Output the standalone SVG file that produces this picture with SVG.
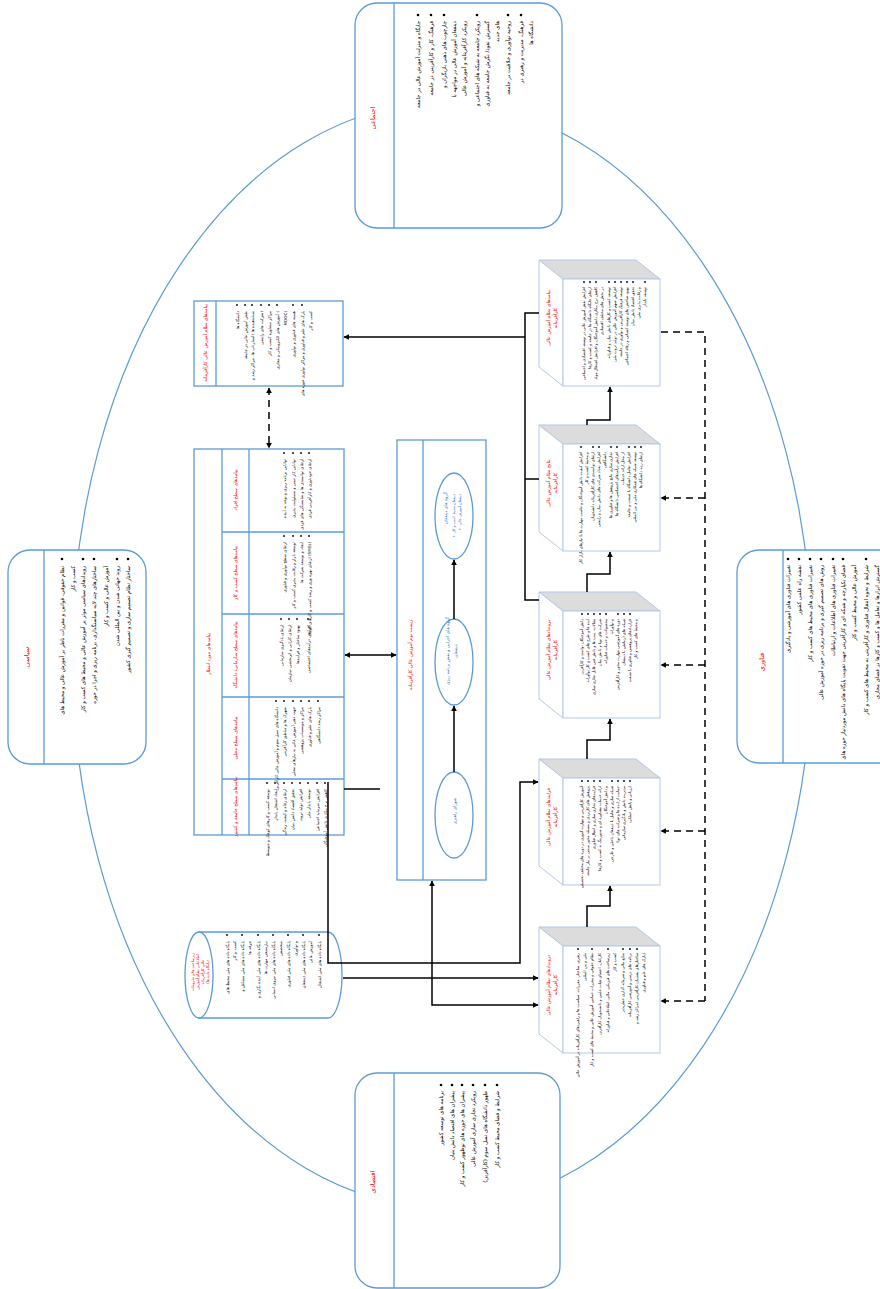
<svg xmlns="http://www.w3.org/2000/svg" width="880" height="1289" viewBox="0 0 880 1289">
<defs>
<marker id="ah" viewBox="0 0 10 10" refX="9" refY="5" markerWidth="6" markerHeight="6" orient="auto-start-reverse" markerUnits="userSpaceOnUse">
<path d="M0,0 L10,5 L0,10 z" fill="#000"/>
</marker>
</defs>
<style>
.bx{fill:#fff;stroke:#5b9bd5;stroke-width:1.3}
.ln{stroke:#5b9bd5;stroke-width:1.3;fill:none}
.cf{fill:#fff;stroke:#b4c7e7;stroke-width:1}
.ct{fill:#dcdcdc;stroke:#b4c7e7;stroke-width:1}
.c{stroke:#000;stroke-width:1.5;fill:none}
.d{stroke:#000;stroke-width:1.5;fill:none;stroke-dasharray:7 5}
text{font-family:"DejaVu Sans","Noto Sans",sans-serif}
.t{font-size:5.4px;fill:#000;text-anchor:end}
.s{font-size:4.1px;fill:#000;text-anchor:end}
.q{font-size:3.9px;fill:#000;text-anchor:end}
.h{font-size:6.5px;fill:#ff0000;text-anchor:middle}
.hs{font-size:4.8px;fill:#ff0000;text-anchor:middle}
.e{font-size:4.4px;fill:#2e75b6;text-anchor:end}
.em{font-size:4.4px;fill:#2e75b6;text-anchor:middle}
.es{font-size:3.6px;fill:#2e75b6;text-anchor:end}
.bl{fill:#000}
</style>

<ellipse cx="442" cy="655" rx="370" ry="552" fill="none" stroke="#5b9bd5" stroke-width="1.2"/>

<g id="political">
<rect class="bx" x="8" y="550" width="138" height="214" rx="22"/>
<line class="ln" x1="44" y1="550" x2="44" y2="764"/>
<g class="bl"><circle cx="62" cy="559" r="1.3"/><circle cx="83" cy="559" r="1.3"/><circle cx="94" cy="559" r="1.3"/><circle cx="117" cy="559" r="1.3"/><circle cx="128" cy="559" r="1.3"/></g>
<g transform="rotate(-90)">
<text class="h" x="-657" y="29">سیاسی</text>
<text class="t" x="-566" y="64">نظام حقوقی، قوانین و مقررات ناظر بر آموزش عالی و محیط های</text>
<text class="t" x="-566" y="75">کسب و کار</text>
<text class="t" x="-566" y="85">رویدادهای سیاسی موثر بر آموزش عالی و محیط های کسب و کار</text>
<text class="t" x="-566" y="96">ساختارهای چند لایه سیاستگذاری، برنامه ریزی و اجرا در حوزه</text>
<text class="t" x="-566" y="108">آموزش عالی و کسب و کار</text>
<text class="t" x="-566" y="119">روند جهانی شدن و بین المللی شدن</text>
<text class="t" x="-566" y="130">ساختار نظام تصمیم سازی و تصمیم گیری کشور</text>
</g>
</g>

<g id="social">
<rect class="bx" x="355" y="3" width="207" height="225" rx="22"/>
<line class="ln" x1="394" y1="3" x2="394" y2="228"/>
<g class="bl"><circle cx="418" cy="15" r="1.3"/><circle cx="431" cy="15" r="1.3"/><circle cx="444" cy="15" r="1.3"/><circle cx="477" cy="15" r="1.3"/><circle cx="508" cy="15" r="1.3"/><circle cx="521" cy="15" r="1.3"/></g>
<g transform="rotate(-90)">
<text class="h" x="-118" y="375">اجتماعی</text>
<text class="t" x="-21" y="420">جایگاه و منزلت آموزش عالی در جامعه</text>
<text class="t" x="-21" y="433">فرهنگ، کار و کارآفرینی در جامعه</text>
<text class="t" x="-21" y="446">چارچوب های ذهنی بازیگران و</text>
<text class="t" x="-21" y="456">ذینفعان آموزش عالی در مواجهه با</text>
<text class="t" x="-21" y="466">رویکرد کارآفرینانه و آموزش عالی</text>
<text class="t" x="-21" y="479">رویکرد جامعه به شبکه های اجتماعی و</text>
<text class="t" x="-21" y="489">گسترش نفوذ/ نگرش جامعه به فناوری</text>
<text class="t" x="-21" y="499">های جدید</text>
<text class="t" x="-21" y="510">روحیه نوآوری و خلاقیت در جامعه</text>
<text class="t" x="-21" y="523">فرهنگ، مدیریت و رهبری در</text>
<text class="t" x="-21" y="533">دانشگاه ها</text>
</g>
</g>

<g id="economic">
<rect class="bx" x="355" y="1073" width="205" height="215" rx="22"/>
<line class="ln" x1="394" y1="1073" x2="394" y2="1288"/>
<g class="bl"><circle cx="441" cy="1085" r="1.3"/><circle cx="452" cy="1085" r="1.3"/><circle cx="462" cy="1085" r="1.3"/><circle cx="473" cy="1085" r="1.3"/><circle cx="485" cy="1085" r="1.3"/><circle cx="497" cy="1085" r="1.3"/></g>
<g transform="rotate(-90)">
<text class="h" x="-1182" y="375">اقتصادی</text>
<text class="t" x="-1091" y="443">برنامه های توسعه کشور</text>
<text class="t" x="-1091" y="454">پیشران های اقتصاد دانش بنیان</text>
<text class="t" x="-1091" y="464">پیشران های حوزه های نوظهور کسب و کار</text>
<text class="t" x="-1091" y="475">رویکرد تجاری سازی آموزش عالی</text>
<text class="t" x="-1091" y="487">ظهور دانشگاه های نسل سوم (کارآفرین)</text>
<text class="t" x="-1091" y="499">شرایط و فضای محیط کسب و کار</text>
</g>
</g>

<g id="technology">
<rect class="bx" x="737" y="550" width="170" height="213" rx="22"/>
<line class="ln" x1="783" y1="550" x2="783" y2="763"/>
<g class="bl"><circle cx="788" cy="559" r="1.3"/><circle cx="799" cy="559" r="1.3"/><circle cx="810" cy="559" r="1.3"/><circle cx="821" cy="559" r="1.3"/><circle cx="833" cy="559" r="1.3"/><circle cx="843" cy="559" r="1.3"/><circle cx="866" cy="559" r="1.3"/></g>
<g transform="rotate(-90)">
<text class="h" x="-662" y="764">فناوری</text>
<text class="t" x="-565" y="790">تغییرات فناوری های آموزشی و یادگیری</text>
<text class="t" x="-565" y="801">نقشه راه علمی کشور</text>
<text class="t" x="-565" y="812">تغییرات فناوری های محیط های کسب و کار</text>
<text class="t" x="-565" y="823">روش های تصمیم گیری و برنامه ریزی در حوزه آموزش عالی</text>
<text class="t" x="-565" y="835">تغییرات فناوری های اطلاعات و ارتباطات</text>
<text class="t" x="-565" y="845">فضای یکپارچه و شبکه ای و کارآفرینی جهت تقویت پایگاه های دانش موردنیاز حوزه های</text>
<text class="t" x="-565" y="856">آموزش عالی و محیط کسب و کار</text>
<text class="t" x="-565" y="868">شرایط و نحوه انتقال فناوری و کارآفرینی به محیط های کسب و کار</text>
<text class="t" x="-565" y="879">گسترش ابزارها و تعامل ها و کسب و کارها در فضای مجازی</text>
</g>
</g>

<g id="impacts-box">
<rect class="bx" x="194" y="301" width="149" height="85"/>
<line class="ln" x1="216" y1="301" x2="216" y2="386"/>
<g class="bl"><circle cx="237" cy="305" r="0.9"/><circle cx="245" cy="305" r="0.9"/><circle cx="252" cy="305" r="0.9"/><circle cx="261" cy="305" r="0.9"/><circle cx="269" cy="305" r="0.9"/><circle cx="277" cy="305" r="0.9"/><circle cx="293" cy="305" r="0.9"/><circle cx="302" cy="305" r="0.9"/></g>
<g transform="rotate(-90)">
<text class="hs" x="-343" y="207">پیامدهای نظام آموزش عالی کارآفرینانه</text>
<text class="s" x="-311" y="238.5">دانشگاه ها</text>
<text class="s" x="-311" y="246.5">نقش آموزش عالی در جامعه</text>
<text class="s" x="-311" y="253.5">شتابدهنده ها (استارتاپ ها، مراکز رشد و</text>
<text class="s" x="-311" y="262.5">شرکت های زایشی)</text>
<text class="s" x="-311" y="270.5">مراکز مشاوره کسب و کار</text>
<text class="s" x="-311" y="278.5">آموزش های الکترونیکی و مجازی (</text>
<text class="s" x="-311" y="286.5">MOOC)</text>
<text class="s" x="-311" y="294.5">هسته های فناوری و نوآوری</text>
<text class="s" x="-311" y="303.5">پارک های علم و فناوری و مراکز نوآوری حوزه های</text>
<text class="s" x="-311" y="311.5">کسب و کار</text>
</g>
</g>

<g id="outcomes-table">
<rect class="bx" x="194" y="449" width="150" height="386"/>
<line class="ln" x1="222" y1="449" x2="222" y2="835"/>
<line class="ln" x1="249" y1="449" x2="249" y2="835"/>
<line class="ln" x1="222" y1="532" x2="344" y2="532"/>
<line class="ln" x1="222" y1="614" x2="344" y2="614"/>
<line class="ln" x1="222" y1="697" x2="344" y2="697"/>
<line class="ln" x1="222" y1="779" x2="344" y2="779"/>
<g class="bl">
<circle cx="284" cy="453" r="0.9"/><circle cx="293" cy="453" r="0.9"/><circle cx="301" cy="453" r="0.9"/><circle cx="309" cy="453" r="0.9"/>
<circle cx="284" cy="536" r="0.9"/><circle cx="293" cy="536" r="0.9"/><circle cx="301" cy="536" r="0.9"/><circle cx="309" cy="536" r="0.9"/>
<circle cx="281" cy="619" r="0.9"/><circle cx="289" cy="619" r="0.9"/><circle cx="297" cy="619" r="0.9"/><circle cx="308" cy="619" r="0.9"/>
<circle cx="276" cy="701" r="0.9"/><circle cx="284" cy="701" r="0.9"/><circle cx="293" cy="701" r="0.9"/><circle cx="301" cy="701" r="0.9"/><circle cx="309" cy="701" r="0.9"/><circle cx="318" cy="701" r="0.9"/>
<circle cx="267" cy="783" r="0.9"/><circle cx="275" cy="783" r="0.9"/><circle cx="284" cy="783" r="0.9"/><circle cx="292" cy="783" r="0.9"/><circle cx="300" cy="783" r="0.9"/><circle cx="308" cy="783" r="0.9"/><circle cx="317" cy="783" r="0.9"/><circle cx="325" cy="783" r="0.9"/>
</g>
<g transform="rotate(-90)">
<text class="hs" x="-654" y="210">پیامدهای مورد انتظار</text>
<text class="hs" x="-490" y="237">پیامدهای سطح افراد</text>
<text class="hs" x="-573" y="237">پیامدهای سطح کسب و کار</text>
<text class="hs" x="-655" y="237">پیامدهای سطح سازمانی/ دانشگاه</text>
<text class="hs" x="-738" y="237">پیامدهای سطح محلی</text>
<text class="hs" x="-807" y="237">پیامدهای سطح جامعه و کشور</text>
<text class="s" x="-459" y="285.5">توانایی برنامه ریزی و توجه به آینده</text>
<text class="s" x="-459" y="294.5">توانایی کار تیمی و مسئولیت پذیری</text>
<text class="s" x="-459" y="302.5">ارتقای توانمندی ها و شایستگی های فردی</text>
<text class="s" x="-459" y="310.5">ارتقای خودباوری و کارآفرینی فردی</text>
<text class="s" x="-542" y="285.5">ارتقای سطح نوآوری و فناوری</text>
<text class="s" x="-542" y="294.5">توسعه بازار و رقابت پذیری کسب و کار</text>
<text class="s" x="-542" y="302.5">ایجاد و توسعه شرکت ها</text>
<text class="s" x="-542" y="310.5">ارتقای بهره وری و رشد کسب و کارهای کوچک (SMEs)</text>
<text class="s" x="-625" y="282.5">ارتقای یادگیری سازمانی</text>
<text class="s" x="-625" y="290.5">ارتقای کارایی و اثربخشی سازمان</text>
<text class="s" x="-625" y="298.5">بهبود ساختار و فرایندها</text>
<text class="s" x="-625" y="309.5">افزایش درآمدهای اختصاصی</text>
<text class="s" x="-707" y="277.5">دانشگاه های نسل سوم و آموزش عالی کارآفرین</text>
<text class="s" x="-707" y="285.5">شهرک ها و مناطق کارآفرینی</text>
<text class="s" x="-707" y="294.5">جهت دهی آموزش عالی به نیازهای محلی</text>
<text class="s" x="-707" y="302.5">مراکز و موسسات پژوهشی</text>
<text class="s" x="-707" y="310.5">پارک های علم و فناوری</text>
<text class="s" x="-707" y="319.5">مراکز رشد دانشگاهی</text>
<text class="s" x="-789" y="268.5">توسعه کسب و کارهای کوچک و متوسط</text>
<text class="s" x="-789" y="276.5">ایجاد اشتغال پایدار</text>
<text class="s" x="-789" y="285.5">ارتقای رفاه و کیفیت زندگی</text>
<text class="s" x="-789" y="293.5">تحقق اقتصاد دانش بنیان</text>
<text class="s" x="-789" y="301.5">افزایش تولید ثروت</text>
<text class="s" x="-789" y="309.5">توسعه پایدار ملی</text>
<text class="s" x="-789" y="318.5">افزایش سرمایه اجتماعی</text>
<text class="s" x="-789" y="326.5">کاهش نرخ بیکاری دانش آموختگان</text>
</g>
</g>

<g id="ecosystem">
<rect class="bx" x="397" y="440" width="89" height="440"/>
<line class="ln" x1="423" y1="440" x2="423" y2="880"/>
<ellipse class="bx" cx="454" cy="516" rx="19" ry="43"/>
<ellipse class="bx" cx="454" cy="662" rx="19" ry="43"/>
<ellipse class="bx" cx="454" cy="815" rx="19" ry="43"/>
<g transform="rotate(-90)">
<text class="hs" x="-655" y="412">زیست بوم آموزش عالی کارآفرینانه</text>
<text class="e" x="-492" y="447">گروه های ذینفعان</text>
<text class="es" x="-494" y="455">۱- ذینفعان محیط کسب و کار</text>
<text class="es" x="-494" y="461">۲- ذینفعان آموزش عالی</text>
<text class="em" x="-651" y="449">گروه های اجرایی و نقش برنامه ریزی</text>
<text class="em" x="-651" y="457">ذینفعان</text>
<text class="em" x="-811" y="456">شورای راهبری</text>
</g>
</g>

<g id="infrastructure">
<path class="bx" d="M199,932 H328 A14,43 0 0 1 328,1018 H199 Z"/>
<ellipse class="bx" cx="199" cy="975" rx="14" ry="43"/>
<g class="bl"><circle cx="227" cy="935" r="0.9"/><circle cx="242" cy="935" r="0.9"/><circle cx="258" cy="935" r="0.9"/><circle cx="273" cy="935" r="0.9"/><circle cx="288" cy="935" r="0.9"/><circle cx="303" cy="935" r="0.9"/><circle cx="319" cy="935" r="0.9"/></g>
<g transform="rotate(-90)">
<text class="hs" style="font-size:3.8px" x="-972" y="194">زیرساخت ها و ملزومات</text>
<text class="hs" style="font-size:3.8px" x="-972" y="199">اطلاعاتی نظام آموزش</text>
<text class="hs" style="font-size:3.8px" x="-972" y="204">عالی کارآفرینانه</text>
<text class="hs" style="font-size:3.8px" x="-972" y="209">(پایگاه داده ها)</text>
<text class="s" x="-941" y="228.5">پایگاه داده های ملی محیط های</text>
<text class="s" x="-941" y="235.5">کسب و کار</text>
<text class="s" x="-941" y="243.5">پایگاه داده های ملی مشاغل و</text>
<text class="s" x="-941" y="250.5">حرفه ها</text>
<text class="s" x="-941" y="259.5">پایگاه داده های ملی آینده نگاری و</text>
<text class="s" x="-941" y="266.5">نیازسنجی مهارت ها</text>
<text class="s" x="-941" y="274.5">پایگاه داده های ملی نیروی انسانی</text>
<text class="s" x="-941" y="281.5">متخصص</text>
<text class="s" x="-941" y="289.5">پایگاه داده های ملی فناوری</text>
<text class="s" x="-941" y="296.5">و نوآوری</text>
<text class="s" x="-941" y="304.5">پایگاه داده های ملی ذینفعان</text>
<text class="s" x="-941" y="311.5">آموزش عالی</text>
<text class="s" x="-941" y="320.5">پایگاه داده های ملی اشتغال</text>
</g>
</g>

<g id="cube-impacts">
<polygon class="ct" points="539,260 636,260 660,279 563,279"/>
<polygon class="cf" points="539,260 563,279 563,386 539,367"/>
<rect class="cf" x="563" y="279" width="97" height="107"/>
<g class="bl"><circle cx="584" cy="282" r="0.9"/><circle cx="590" cy="282" r="0.9"/><circle cx="596" cy="282" r="0.9"/><circle cx="609" cy="282" r="0.9"/><circle cx="615" cy="282" r="0.9"/><circle cx="621" cy="282" r="0.9"/><circle cx="627" cy="282" r="0.9"/><circle cx="633" cy="282" r="0.9"/><circle cx="645" cy="282" r="0.9"/></g>
<g transform="rotate(-90)">
<text class="hs" x="-318" y="550">پیامدهای نظام آموزش عالی</text>
<text class="hs" x="-318" y="557">کارآفرینانه</text>
<text class="q" x="-287" y="585">افزایش نقش آموزش عالی در توسعه اقتصادی و اجتماعی</text>
<text class="q" x="-287" y="591">ارتقای جایگاه دانشگاه ها در جامعه و کسب و کارها</text>
<text class="q" x="-287" y="597">کاهش نرخ بیکاری دانش آموختگان و افزایش اشتغال مولد</text>
<text class="q" x="-287" y="603">در بخش های مختلف اقتصادی</text>
<text class="q" x="-287" y="610">توسعه کسب و کارهای دانش بنیان و فناورانه</text>
<text class="q" x="-287" y="616">افزایش سهم آموزش عالی در تولید ثروت ملی</text>
<text class="q" x="-287" y="622">توسعه فرهنگ کارآفرینی و نوآوری در جامعه</text>
<text class="q" x="-287" y="628">بهبود شاخص های توسعه انسانی و رفاه اجتماعی</text>
<text class="q" x="-287" y="634">تحقق اقتصاد دانش بنیان</text>
<text class="q" x="-287" y="640">و رقابت پذیری ملی</text>
<text class="q" x="-287" y="646">توسعه پایدار</text>
</g>
</g>

<g id="cube-outcomes">
<polygon class="ct" points="539,425 636,425 660,444 563,444"/>
<polygon class="cf" points="539,425 563,444 563,551 539,532"/>
<rect class="cf" x="563" y="444" width="97" height="107"/>
<g class="bl"><circle cx="581" cy="447" r="0.9"/><circle cx="593" cy="447" r="0.9"/><circle cx="599" cy="447" r="0.9"/><circle cx="611" cy="447" r="0.9"/><circle cx="617" cy="447" r="0.9"/><circle cx="629" cy="447" r="0.9"/><circle cx="635" cy="447" r="0.9"/><circle cx="641" cy="447" r="0.9"/></g>
<g transform="rotate(-90)">
<text class="hs" x="-483" y="550">نتایج نظام آموزش عالی</text>
<text class="hs" x="-483" y="557">کارآفرینانه</text>
<text class="q" x="-452" y="582">افزایش کیفیت دانش آموختگان و تناسب مهارت ها با نیازهای بازار کار</text>
<text class="q" x="-452" y="588">و محیط کسب و کار</text>
<text class="q" x="-452" y="594">ارتقای توانمندی های کارآفرینانه دانشجویان</text>
<text class="q" x="-452" y="600">افزایش تعداد شرکت های دانش بنیان و زایشی</text>
<text class="q" x="-452" y="606">دانشگاهی</text>
<text class="q" x="-452" y="612">تجاری سازی نتایج پژوهش ها و فناوری ها</text>
<text class="q" x="-452" y="618">افزایش درآمدهای اختصاصی دانشگاه ها</text>
<text class="q" x="-452" y="624">از محل ارائه خدمات</text>
<text class="q" x="-452" y="630">افزایش تعامل دانشگاه با صنعت و جامعه</text>
<text class="q" x="-452" y="636">توسعه شبکه های همکاری ملی و بین المللی</text>
<text class="q" x="-452" y="642">ارتقای رتبه دانشگاه ها</text>
</g>
</g>

<g id="cube-outputs">
<polygon class="ct" points="539,592 636,592 660,611 563,611"/>
<polygon class="cf" points="539,592 563,611 563,718 539,699"/>
<rect class="cf" x="563" y="611" width="97" height="107"/>
<g class="bl"><circle cx="582" cy="614" r="0.9"/><circle cx="588" cy="614" r="0.9"/><circle cx="594" cy="614" r="0.9"/><circle cx="600" cy="614" r="0.9"/><circle cx="606" cy="614" r="0.9"/><circle cx="618" cy="614" r="0.9"/><circle cx="624" cy="614" r="0.9"/><circle cx="630" cy="614" r="0.9"/></g>
<g transform="rotate(-90)">
<text class="hs" x="-650" y="550">بروندادهای نظام آموزش عالی</text>
<text class="hs" x="-650" y="557">کارآفرینانه</text>
<text class="q" x="-619" y="583">دانش آموختگان توانمند و کارآفرین</text>
<text class="q" x="-619" y="589">ایده ها و طرح های کسب و کار نوآورانه</text>
<text class="q" x="-619" y="595">مقالات، پتنت ها و دانش فنی قابل تجاری سازی</text>
<text class="q" x="-619" y="601">شرکت های نوپا و دانش بنیان</text>
<text class="q" x="-619" y="607">محصولات و خدمات فناورانه</text>
<text class="q" x="-619" y="613">و نوآورانه</text>
<text class="q" x="-619" y="619">دوره های آموزشی مهارت محور و کارآفرینی</text>
<text class="q" x="-619" y="625">شبکه های ارتباطی با ذینفعان</text>
<text class="q" x="-619" y="631">قراردادهای پژوهشی و فناوری با صنعت</text>
<text class="q" x="-619" y="637">و محیط های کسب و کار</text>
</g>
</g>

<g id="cube-processes">
<polygon class="ct" points="539,759 636,759 660,778 563,778"/>
<polygon class="cf" points="539,759 563,778 563,885 539,866"/>
<rect class="cf" x="563" y="778" width="97" height="107"/>
<g class="bl"><circle cx="582" cy="781" r="0.9"/><circle cx="588" cy="781" r="0.9"/><circle cx="594" cy="781" r="0.9"/><circle cx="600" cy="781" r="0.9"/><circle cx="612" cy="781" r="0.9"/><circle cx="618" cy="781" r="0.9"/><circle cx="624" cy="781" r="0.9"/><circle cx="630" cy="781" r="0.9"/></g>
<g transform="rotate(-90)">
<text class="hs" x="-817" y="550">فرایندهای نظام آموزش عالی</text>
<text class="hs" x="-817" y="557">کارآفرینانه</text>
<text class="q" x="-786" y="583">آموزش کارآفرینی و مهارت آموزی در دوره های مختلف تحصیلی</text>
<text class="q" x="-786" y="589">پژوهش های کاربردی و مسئله محور مبتنی بر نیاز جامعه</text>
<text class="q" x="-786" y="595">فرایندهای تجاری سازی و انتقال فناوری</text>
<text class="q" x="-786" y="601">ارائه خدمات مشاوره ای و منتورینگ به کسب و کارها</text>
<text class="q" x="-786" y="607">و دانش آموختگان</text>
<text class="q" x="-786" y="613">شبکه سازی و تعامل با ذینفعان داخلی و خارجی</text>
<text class="q" x="-786" y="619">حمایت از ایده ها و شرکت های نوپا</text>
<text class="q" x="-786" y="625">مدیریت دانش و یادگیری سازمانی</text>
<text class="q" x="-786" y="631">ارزیابی و پایش عملکرد</text>
</g>
</g>

<g id="cube-inputs">
<polygon class="ct" points="539,927 636,927 660,946 563,946"/>
<polygon class="cf" points="539,927 563,946 563,1053 539,1034"/>
<rect class="cf" x="563" y="946" width="97" height="107"/>
<g class="bl"><circle cx="578" cy="949" r="0.9"/><circle cx="592" cy="949" r="0.9"/><circle cx="608" cy="949" r="0.9"/><circle cx="623" cy="949" r="0.9"/><circle cx="630" cy="949" r="0.9"/><circle cx="637" cy="949" r="0.9"/></g>
<g transform="rotate(-90)">
<text class="hs" x="-985" y="550">دروندادهای نظام آموزش عالی</text>
<text class="hs" x="-985" y="557">کارآفرینانه</text>
<text class="q" x="-953" y="579">رهبری، ساختار، مقررات، سیاست ها و راهبردهای کارآفرینانه در آموزش عالی</text>
<text class="q" x="-953" y="586">ملی و بین المللی</text>
<text class="q" x="-953" y="593">نظام حقوقی و مقررات حمایتی آموزش عالی و محیط های کسب و کار</text>
<text class="q" x="-953" y="601">کارکنان، اعضای هیات علمی و دانشجویان کارآفرین</text>
<text class="q" x="-953" y="609">زیرساخت های فیزیکی، مالی، اطلاعاتی و فناورانه</text>
<text class="q" x="-953" y="616">کسب و کار</text>
<text class="q" x="-953" y="624">منابع مالی و سرمایه گذاری خطرپذیر</text>
<text class="q" x="-953" y="631">برنامه های درسی و آموزشی کارآفرینانه</text>
<text class="q" x="-953" y="638">ساختارهای پشتیبان کارآفرینی (مراکز رشد و</text>
<text class="q" x="-953" y="645">پارک های علم و فناوری)</text>
</g>
</g>

<g id="connectors">
<path class="d" d="M269,388 V448" marker-start="url(#ah)" marker-end="url(#ah)"/>
<path class="c" d="M345,655 H396" marker-start="url(#ah)" marker-end="url(#ah)"/>
<path class="c" d="M344,789 H380"/>
<path class="c" d="M539,313 H525 V600 H539"/>
<path class="c" d="M525,479 H539"/>
<path class="c" d="M525,337 H344" marker-end="url(#ah)"/>
<path class="c" d="M587,425 V420 H610 V387" marker-end="url(#ah)"/>
<path class="c" d="M587,592 V574 H610 V552" marker-end="url(#ah)"/>
<path class="c" d="M587,759 V740 H610 V719" marker-end="url(#ah)"/>
<path class="c" d="M587,927 V906 H610 V886" marker-end="url(#ah)"/>
<path class="d" d="M661,332 H705 V1001"/>
<path class="d" d="M705,498 H661" marker-end="url(#ah)"/>
<path class="d" d="M705,665 H661" marker-end="url(#ah)"/>
<path class="d" d="M705,831 H661" marker-end="url(#ah)"/>
<path class="d" d="M705,1001 H661" marker-end="url(#ah)"/>
<path class="c" d="M328,782 V963 H520 V782 H538" marker-end="url(#ah)"/>
<path class="c" d="M343,978 H538" marker-end="url(#ah)"/>
<path class="c" d="M432,881 V1005 H538" marker-start="url(#ah)" marker-end="url(#ah)"/>
<path class="c" d="M454,772 V706" marker-end="url(#ah)"/>
<path class="c" d="M454,619 V560" marker-end="url(#ah)"/>
</g>
</svg>
